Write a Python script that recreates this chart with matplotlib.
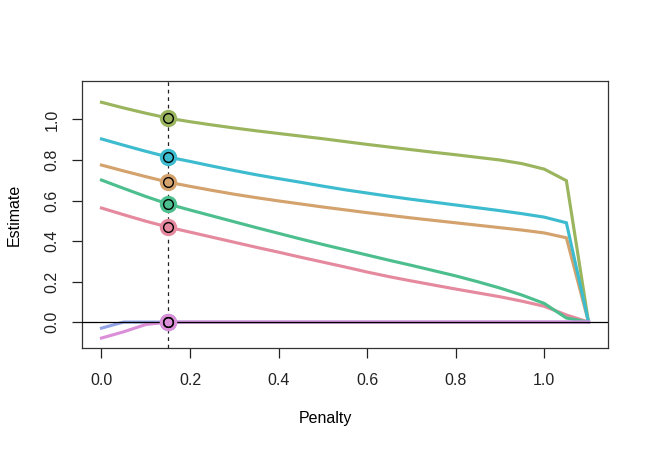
import matplotlib
matplotlib.use("Agg")
import matplotlib.pyplot as plt
import numpy as np

plt.rcParams['font.family'] = ['Liberation Sans', 'DejaVu Sans']

penalty = [0.00, 0.05, 0.10, 0.15, 0.20, 0.25, 0.30, 0.35, 0.40, 0.45, 0.50, 0.55,
           0.60, 0.65, 0.70, 0.75, 0.80, 0.85, 0.90, 0.95, 1.00, 1.05, 1.10]

pink = [0.563, 0.530, 0.498, 0.469, 0.444, 0.419, 0.394, 0.369, 0.345, 0.320, 0.296, 0.272,
        0.247, 0.224, 0.203, 0.183, 0.163, 0.144, 0.125, 0.103, 0.078, 0.035, 0.0]
tan = [0.775, 0.746, 0.718, 0.691, 0.670, 0.650, 0.631, 0.614, 0.598, 0.583, 0.568, 0.554,
       0.540, 0.527, 0.514, 0.502, 0.490, 0.478, 0.466, 0.454, 0.440, 0.416, 0.0]
olive = [1.085, 1.057, 1.031, 1.007, 0.989, 0.973, 0.958, 0.944, 0.931, 0.918, 0.905, 0.891,
         0.877, 0.864, 0.851, 0.838, 0.826, 0.813, 0.800, 0.782, 0.755, 0.698, 0.0]
green = [0.701, 0.660, 0.620, 0.583, 0.553, 0.524, 0.495, 0.466, 0.438, 0.410, 0.383, 0.357,
         0.331, 0.305, 0.280, 0.254, 0.228, 0.199, 0.168, 0.133, 0.092, 0.020, 0.0]
cyan = [0.904, 0.873, 0.843, 0.815, 0.793, 0.770, 0.748, 0.727, 0.708, 0.690, 0.671, 0.653,
        0.637, 0.621, 0.606, 0.592, 0.578, 0.564, 0.550, 0.535, 0.518, 0.490, 0.0]
lavender = [-0.030, 0.0, 0.0, 0.0, 0.0, 0.0, 0.0, 0.0, 0.0, 0.0, 0.0, 0.0,
            0.0, 0.0, 0.0, 0.0, 0.0, 0.0, 0.0, 0.0, 0.0, 0.0, 0.0]
purple = [-0.079, -0.048, -0.012, 0.0, 0.0, 0.0, 0.0, 0.0, 0.0, 0.0, 0.0, 0.0,
          0.0, 0.0, 0.0, 0.0, 0.0, 0.0, 0.0, 0.0, 0.0, 0.0, 0.0]

series = [pink, tan, olive, green, cyan, lavender, purple]
colors = ['#E58A9E', '#D4A26C', '#9AB55E', '#4DBF8F', '#3DBCCF', '#94A4E6', '#DA8FD8']

selected = 0.15
x_ticks = [0.0, 0.2, 0.4, 0.6, 0.8, 1.0]
y_ticks = [0.0, 0.2, 0.4, 0.6, 0.8, 1.0]

fig = plt.figure(figsize=(6.5, 4.5), dpi=100)
ax = fig.add_axes([82/650, 1 - 348/450, (608-82)/650, (348-81)/450])

for s, c in zip(series, colors):
    ax.plot(penalty, s, color=c, lw=2.25, solid_joinstyle='miter', zorder=2)

ax.axhline(0, color='black', lw=0.9, zorder=3)
ax.axvline(selected, color='#222222', lw=0.9, ls=(0, (3, 3)), zorder=3)

idx = penalty.index(selected)
for s, c in zip(series, colors):
    ax.plot(selected, s[idx], 'o', ms=12.5, color=c, mec='none', zorder=4)
    ax.plot(selected, s[idx], 'o', ms=7, mfc='none', mec='black', mew=1.0, zorder=5)

ax.set_xlim(-0.044, 1.144)
ax.set_ylim(-0.128, 1.19)
ax.set_xticks(x_ticks)
ax.set_xticklabels([f"{v:.1f}" for v in x_ticks])
ax.set_yticks(y_ticks)
ax.set_yticklabels([f"{v:.1f}" for v in y_ticks], rotation=90, va='center')
ax.tick_params(direction='out', length=7, width=0.9, labelsize=11.5, colors='#222222')
ax.tick_params(axis='x', pad=11)
ax.tick_params(axis='y', pad=9)
for sp in ax.spines.values():
    sp.set_color('#333333')
    sp.set_linewidth(0.9)

ax.set_xlabel('Penalty', fontsize=11.5, va='center')
ax.xaxis.set_label_coords((325-82)/526, -(418-348)/267)
ax.set_ylabel('Estimate', fontsize=11.5, va='center')
ax.yaxis.set_label_coords(-(82-14)/526, 0.5)

fig.savefig('out.png', dpi=100)
